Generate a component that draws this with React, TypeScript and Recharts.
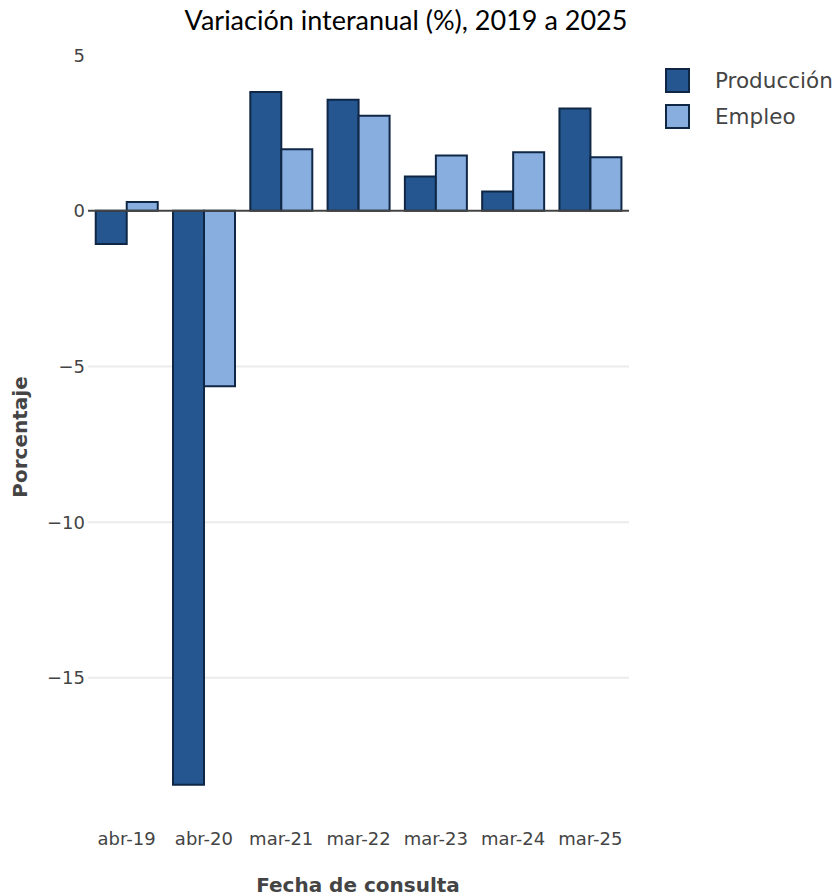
import React from "react";
import { BarChart, Bar, XAxis, YAxis, ReferenceLine, CartesianGrid } from "recharts";

const categories = ["abr-19", "abr-20", "mar-21", "mar-22", "mar-23", "mar-24", "mar-25"];
const produccion = [-1.07, -18.43, 3.81, 3.56, 1.1, 0.62, 3.28];
const empleo = [0.28, -5.64, 1.97, 3.05, 1.77, 1.88, 1.72];
const yTicks = [-15, -10, -5, 0, 5];
const gridValues = [-15, -10, -5];

const data = categories.map((c, i) => ({ cat: c, produccion: produccion[i], empleo: empleo[i] }));

const TICK_FONT = "'DejaVu Sans', Verdana, sans-serif";
const DARK = "#444";
const C_PROD = "#25568f";
const C_EMP = "#88aee0";
const C_STROKE = "#0f2745";

const fmt = (v: number) => (v < 0 ? "\u2212" + Math.abs(v) : String(v));

const XTick = (props: any) => {
  const { x, y, payload } = props;
  return (
    <text x={x} y={y + 20} textAnchor="middle" dominantBaseline="central" fontFamily={TICK_FONT} fontSize={18} fill={DARK}>
      {payload.value}
    </text>
  );
};

const YTick = (props: any) => {
  const { y, payload } = props;
  return (
    <text x={85} y={y} textAnchor="end" dominantBaseline="central" fontFamily={TICK_FONT} fontSize={18} fill={DARK}>
      {fmt(payload.value)}
    </text>
  );
};

export default function App() {
  return (
    <div style={{ position: "absolute", left: 0, top: 0, width: 839, height: 896, background: "#fff", overflow: "hidden" }}>
      <BarChart
        width={839}
        height={896}
        data={data}
        margin={{ top: 55, right: 210, bottom: 0, left: 0 }}
        barCategoryGap="10%"
        barGap={0}
      >
        <CartesianGrid vertical={false} horizontalValues={gridValues} stroke="#ebebeb" strokeWidth={2} />
        <XAxis dataKey="cat" height={78} axisLine={false} tickLine={false} tickSize={0} tickMargin={0} tick={<XTick />} interval={0} />
        <YAxis
          width={88}
          domain={[-19.5, 5]}
          ticks={yTicks}
          allowDataOverflow
          axisLine={false}
          tickLine={false}
          tickSize={0}
          tickMargin={0}
          tick={<YTick />}
          interval={0}
        />
        <ReferenceLine y={0} stroke={DARK} strokeWidth={2} />
        <Bar dataKey="produccion" fill={C_PROD} stroke={C_STROKE} strokeWidth={2} isAnimationActive={false} />
        <Bar dataKey="empleo" fill={C_EMP} stroke={C_STROKE} strokeWidth={2} isAnimationActive={false} />
      </BarChart>

      <div
        style={{
          position: "absolute",
          left: 406,
          top: 3,
          transform: "translateX(-50%)",
          whiteSpace: "nowrap",
          fontFamily: "Lato, sans-serif",
          fontSize: 27,
          color: "#000",
          lineHeight: "34px",
        }}
      >
        Variación interanual (%), 2019 a 2025
      </div>

      <div style={{ position: "absolute", left: 665, top: 68, fontFamily: TICK_FONT, fontSize: 21.5, color: DARK }}>
        {[
          { name: "Producción", color: C_PROD },
          { name: "Empleo", color: C_EMP },
        ].map((it) => (
          <div key={it.name} style={{ display: "flex", alignItems: "center", height: 25, marginBottom: 11 }}>
            <div style={{ width: 21, height: 21, background: it.color, border: `2px solid ${C_STROKE}` }} />
            <span style={{ marginLeft: 25, lineHeight: "25px" }}>{it.name}</span>
          </div>
        ))}
      </div>

      <div
        style={{
          position: "absolute",
          left: 20,
          top: 437,
          transform: "translate(-50%, -50%) rotate(-90deg)",
          whiteSpace: "nowrap",
          fontFamily: TICK_FONT,
          fontWeight: "bold",
          fontSize: 20,
          color: DARK,
        }}
      >
        Porcentaje
      </div>
      <div
        style={{
          position: "absolute",
          left: 358,
          top: 885,
          transform: "translate(-50%, -50%)",
          whiteSpace: "nowrap",
          fontFamily: TICK_FONT,
          fontWeight: "bold",
          fontSize: 20,
          lineHeight: "20px",
          color: DARK,
        }}
      >
        Fecha de consulta
      </div>
    </div>
  );
}
